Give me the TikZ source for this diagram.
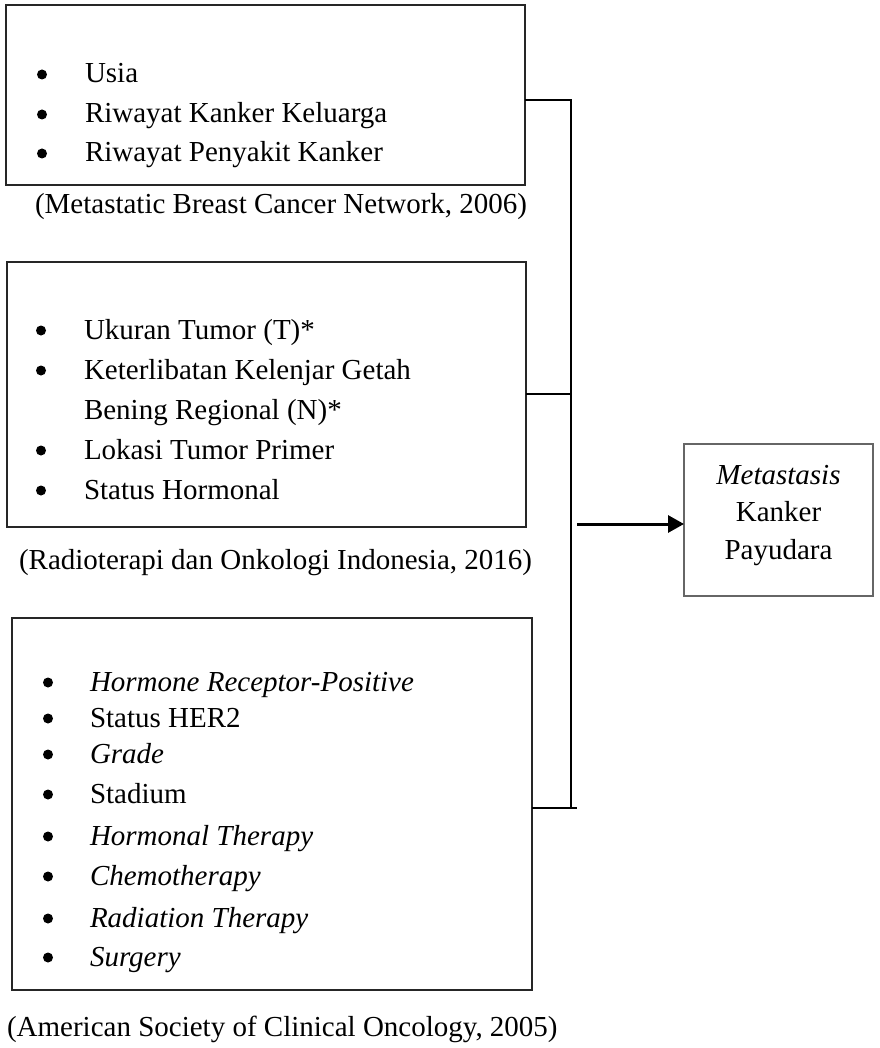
\documentclass[tikz,border=0pt]{standalone}
\usepackage{fontspec}
\setmainfont{Liberation Serif}
\usetikzlibrary{arrows.meta}
\begin{document}
\begin{tikzpicture}[x=1pt,y=-1pt,
  every node/.style={inner sep=0pt, outer sep=0pt, font=\fontsize{29}{35}\selectfont},
  fbox/.style={draw=black!85, line width=1.6pt, anchor=north west},
  rbox/.style={draw=black!60, line width=1.6pt, anchor=north west},
  item/.style={anchor=base west},
  bul/.style={circle, fill=black, minimum size=10pt, yshift=8.5pt},
  captext/.style={anchor=base west},
  conn/.style={draw=black, line width=2pt},
  arr/.style={draw=black, line width=3pt, -{Triangle[length=16pt,width=17pt]}}]
\useasboundingbox (0,0) rectangle (879,1048);

% boxes
\node[fbox, minimum width=519pt, minimum height=180pt] (b1) at (6,5) {};
\node[fbox, minimum width=519pt, minimum height=265pt] (b2) at (7,262) {};
\node[fbox, minimum width=520pt, minimum height=372pt] (b3) at (12,618) {};
\node[rbox, minimum width=189pt, minimum height=152pt] (rb) at (684,444) {};

% box 1 items
\node[bul] (p11) at (42,83) {};  \node[item] (t11) at (85,83) {Usia};
\node[bul] (p12) at (42,123) {}; \node[item] (t12) at (85,123) {Riwayat Kanker Keluarga};
\node[bul] (p13) at (42,162) {}; \node[item] (t13) at (85,162) {Riwayat Penyakit Kanker};
\node[captext] (c1) at (35,214) {(Metastatic Breast Cancer Network, 2006)};

% box 2 items
\node[bul] (p21) at (41,339) {}; \node[item] (t21) at (84,339) {Ukuran Tumor (T)*};
\node[bul] (p22) at (41,379) {}; \node[item] (t22) at (84,379) {Keterlibatan Kelenjar Getah};
\node[item] (t22b) at (84,419) {Bening Regional (N)*};
\node[bul] (p23) at (41,459) {}; \node[item] (t23) at (84,459) {Lokasi Tumor Primer};
\node[bul] (p24) at (41,499) {}; \node[item] (t24) at (84,499) {Status Hormonal};
\node[captext] (c2) at (19,569) {(Radioterapi dan Onkologi Indonesia, 2016)};

% box 3 items
\node[bul] (p31) at (48,691) {}; \node[item] (t31) at (90,691) {\textit{Hormone Receptor-Positive}};
\node[bul] (p32) at (48,727) {}; \node[item] (t32) at (90,727) {Status HER2};
\node[bul] (p33) at (48,763) {}; \node[item] (t33) at (90,763) {\textit{Grade}};
\node[bul] (p34) at (48,803) {}; \node[item] (t34) at (90,803) {Stadium};
\node[bul] (p35) at (48,845) {}; \node[item] (t35) at (90,845) {\textit{Hormonal Therapy}};
\node[bul] (p36) at (48,885) {}; \node[item] (t36) at (90,885) {\textit{Chemotherapy}};
\node[bul] (p37) at (48,927) {}; \node[item] (t37) at (90,927) {\textit{Radiation Therapy}};
\node[bul] (p38) at (48,966) {}; \node[item] (t38) at (90,966) {\textit{Surgery}};
\node[captext] (c3) at (7,1036) {(American Society of Clinical Oncology, 2005)};

% right box text
\node[anchor=base] (r1) at (778.5,484) {\textit{Metastasis}};
\node[anchor=base] (r2) at (778.5,521.5) {Kanker};
\node[anchor=base] (r3) at (778.5,559) {Payudara};

% connectors
\coordinate (j1) at (571,100);
\coordinate (j2) at (571,394);
\coordinate (j3) at (571,808);
\coordinate (e3) at (577,808);
\coordinate (a0) at (577,524);
\draw[conn] (b1.east |- j1) -- (j1) -- (j3);
\draw[conn] (b2.east |- j2) -- (j2);
\draw[conn] (b3.east |- j3) -- (e3);
\draw[arr] (a0) -- (rb.west |- a0);
\end{tikzpicture}
\end{document}
